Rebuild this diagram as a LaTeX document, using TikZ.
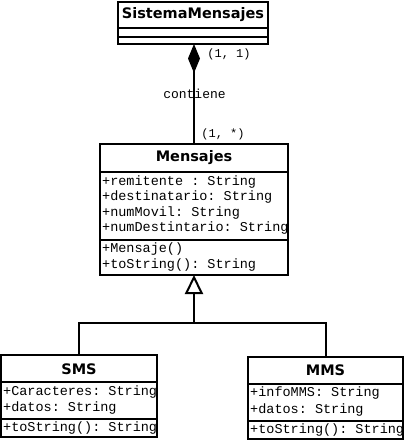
\documentclass[tikz,border=0pt]{standalone}
\usepackage{fontspec}
\setsansfont{DejaVu Sans}
\setmonofont{Liberation Mono}
\usetikzlibrary{arrows.meta}
\tikzset{
  cls/.style={draw=black, line width=2pt, fill=white, rectangle, inner sep=0pt, outer sep=0pt},
  sep/.style={line width=1.7pt},
  ttl/.style={font=\fontsize{14.5}{16}\selectfont\sffamily\bfseries, inner sep=0pt},
  mem/.style={font=\fontsize{13.5}{15}\selectfont\ttfamily, anchor=west, inner sep=0pt},
  lbl/.style={font=\fontsize{12}{14}\selectfont\ttfamily, inner sep=0pt},
  conn/.style={line width=2pt},
}
\begin{document}
\begin{tikzpicture}[x=1pt,y=-1pt]
\useasboundingbox (0,0) rectangle (405,440);
% SistemaMensajes
\node[cls, minimum width=150pt, minimum height=42pt] (sys) at (193,23) {};
\draw[sep] (sys.west |- 0,28) -- (sys.east |- 0,28);
\draw[sep] (sys.west |- 0,37) -- (sys.east |- 0,37);
\node[ttl] (systitle) at (193,15) {SistemaMensajes};
% Mensajes
\node[cls, minimum width=188pt, minimum height=131pt] (mens) at (194,209.5) {};
\draw[sep] (mens.west |- 0,172) -- (mens.east |- 0,172);
\draw[sep] (mens.west |- 0,240) -- (mens.east |- 0,240);
\node[ttl] (menstitle) at (194,158) {Mensajes};
\node[mem] (m1) at (102,182) {+remitente : String};
\node[mem] (m2) at (102,197.5) {+destinatario: String};
\node[mem] (m3) at (102,213) {+numMovil: String};
\node[mem] (m4) at (102,228.5) {+numDestintario: String};
\node[mem] (m5) at (102,249.5) {+Mensaje()};
\node[mem] (m6) at (102,265.5) {+toString(): String};
% SMS
\node[cls, minimum width=156pt, minimum height=82pt] (sms) at (79,396) {};
\draw[sep] (sms.west |- 0,382) -- (sms.east |- 0,382);
\draw[sep] (sms.west |- 0,419) -- (sms.east |- 0,419);
\node[ttl] (smstitle) at (79,369) {SMS};
\node[mem] (s1) at (3,392) {+Caracteres: String};
\node[mem] (s2) at (3,408.5) {+datos: String};
\node[mem] (s3) at (3,428) {+toString(): String};
% MMS
\node[cls, minimum width=155pt, minimum height=82pt] (mms) at (325.5,398) {};
\draw[sep] (mms.west |- 0,384) -- (mms.east |- 0,384);
\draw[sep] (mms.west |- 0,421) -- (mms.east |- 0,421);
\node[ttl] (mmstitle) at (325.5,370.5) {MMS};
\node[mem] (q1) at (250,393.5) {+infoMMS: String};
\node[mem] (q2) at (250,410) {+datos: String};
\node[mem] (q3) at (250,430) {+toString(): String};
% composition
\coordinate (comptop) at (mens.north |- sys.south);
\draw[conn, -{Diamond[length=29pt, width=12pt, fill=black]}] (mens.north) -- (comptop);
\node[lbl] (mult1) at (229,54) {(1, 1)};
\node[lbl, font=\fontsize{13}{15}\selectfont\ttfamily] (contiene) at (194.5,94) {contiene};
\node[lbl] (mult2) at (223,134) {(1, *)};
% generalization
\coordinate (j) at (mens.south |- 0,323);
\draw[conn] (sms.north) |- (j) -| (mms.north);
\draw[conn, -{Triangle[open, length=19pt, width=18pt, fill=white]}] (j) -- (mens.south);
\end{tikzpicture}
\end{document}
